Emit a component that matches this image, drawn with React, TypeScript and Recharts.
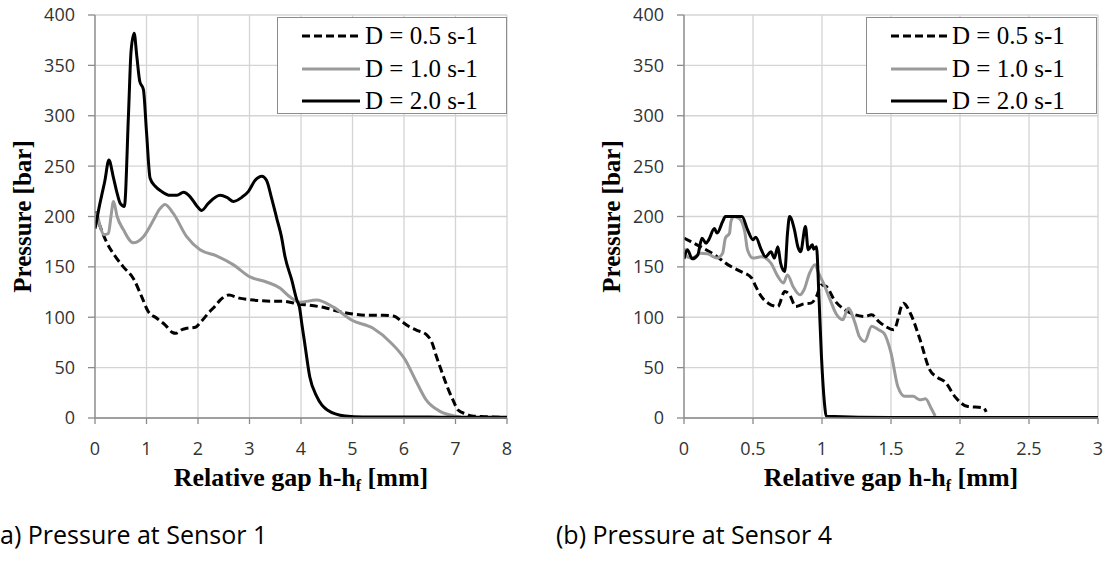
import * as React from "react";
import { CartesianGrid, Label, Legend, Line, LineChart, XAxis, YAxis } from "recharts";

// values, [gap mm, pressure bar]
const sensor1Low = [
  [0, 205], [0.1, 190], [0.23, 174], [0.4, 160], [0.55, 150], [0.75, 138], [0.91, 120], [1.03, 106],
  [1.2, 99], [1.37, 92], [1.5, 85], [1.57, 84], [1.7, 88], [1.78, 89], [1.95, 90], [2.05, 95],
  [2.2, 104], [2.33, 111], [2.45, 118], [2.6, 122], [2.8, 119], [3.0, 117.5], [3.4, 116], [3.63, 116],
  [3.97, 113], [4.17, 112], [4.5, 109], [4.72, 106], [5.04, 103], [5.3, 102], [5.6, 102], [5.81, 101],
  [5.95, 96], [6.09, 91], [6.25, 87], [6.43, 83], [6.55, 74], [6.63, 61], [6.74, 45], [6.84, 31],
  [6.95, 18], [7.05, 8], [7.2, 4], [7.32, 2], [7.5, 1.5], [7.7, 1], [8, 0.5],
];
const sensor1Mid = [
  [0, 198], [0.03, 203], [0.1, 190], [0.17, 182], [0.26, 183], [0.31, 200], [0.36, 215], [0.43, 200],
  [0.55, 187], [0.74, 174], [0.94, 180], [1.13, 196], [1.25, 207], [1.36, 212], [1.52, 203], [1.78, 180],
  [2.04, 167], [2.36, 161], [2.69, 152], [3.01, 140], [3.33, 135], [3.59, 129], [3.79, 120], [3.98, 115],
  [4.3, 117], [4.63, 110], [4.99, 97], [5.4, 89], [5.75, 74.5], [6.02, 58], [6.22, 38], [6.43, 18],
  [6.7, 6.6], [6.98, 2], [7.1, 1],
];
const sensor1High = [
  [0, 188], [0.03, 195], [0.065, 205], [0.13, 221], [0.19, 235], [0.27, 256], [0.36, 238], [0.42, 225],
  [0.49, 213], [0.57, 210], [0.65, 301], [0.7, 364], [0.76, 382], [0.81, 360], [0.87, 334], [0.94, 326],
  [1.0, 284], [1.07, 238], [1.17, 230], [1.29, 225], [1.46, 221], [1.59, 221], [1.72, 224], [1.84, 220],
  [1.97, 211], [2.07, 206], [2.2, 213], [2.43, 221], [2.56, 219], [2.69, 215], [2.85, 219], [2.98, 225],
  [3.11, 236], [3.24, 240], [3.33, 236], [3.43, 218], [3.53, 198], [3.62, 180], [3.69, 160], [3.82, 137],
  [3.92, 117], [3.97, 110], [4.02, 92], [4.07, 75], [4.17, 41], [4.31, 21], [4.51, 8], [4.86, 2],
  [5.2, 1], [6, 1], [7, 0.8], [8, 0.8],
];

const sensor4Low = [
  [0, 178.5], [0.05, 175], [0.12, 170], [0.22, 162], [0.32, 152], [0.41, 145.5], [0.49, 139], [0.52, 130.6],
  [0.56, 120.7], [0.61, 114], [0.68, 110.7], [0.73, 125.6], [0.765, 122.3], [0.81, 110.7], [0.87, 113.4],
  [0.92, 114], [0.96, 120.7], [0.995, 132], [1.03, 130.6], [1.09, 117], [1.165, 107.4], [1.24, 102.5],
  [1.31, 100.8], [1.36, 102.5], [1.41, 96], [1.46, 91], [1.52, 87.7], [1.59, 114], [1.64, 104], [1.71, 78],
  [1.78, 48], [1.84, 40], [1.89, 36], [1.97, 20], [2.05, 11.6], [2.17, 10], [2.19, 6],
];
const sensor4Mid = [
  [0, 168.6], [0.024, 160], [0.06, 158.7], [0.12, 163.6], [0.17, 163], [0.24, 158.7], [0.28, 163.6],
  [0.3, 178.5], [0.33, 183.5], [0.34, 195], [0.36, 200], [0.4, 198], [0.44, 185], [0.46, 167], [0.5, 158.7],
  [0.56, 160], [0.63, 153.7], [0.68, 140.5], [0.72, 134], [0.75, 142], [0.79, 130.6], [0.84, 122.3],
  [0.87, 127.3], [0.91, 143.8], [0.95, 152], [0.976, 143.8], [1.01, 134], [1.06, 117], [1.1, 104],
  [1.15, 97.5], [1.19, 109], [1.24, 94], [1.27, 81], [1.31, 76], [1.36, 91], [1.41, 87.6], [1.45, 84],
  [1.5, 64.6], [1.55, 31], [1.6, 21.5], [1.66, 21.5], [1.71, 18], [1.75, 19], [1.79, 10], [1.82, 2],
];
const sensor4High = [
  [0, 158], [0.024, 167], [0.06, 158], [0.1, 162], [0.13, 178.5], [0.16, 173.5], [0.18, 177], [0.22, 188],
  [0.24, 183.5], [0.28, 195], [0.3, 200], [0.42, 200], [0.46, 187], [0.5, 177], [0.52, 179.5], [0.56, 167],
  [0.59, 160], [0.63, 165], [0.655, 158.7], [0.68, 170], [0.7, 153.7], [0.73, 145.5], [0.75, 183.5],
  [0.765, 200], [0.8, 187], [0.825, 170], [0.845, 165], [0.88, 190], [0.9, 167], [0.93, 172], [0.94, 167.6],
  [0.96, 170], [0.976, 127], [0.995, 64], [1.02, 11.6], [1.03, 1.7], [1.5, 0.5], [2, 0.5], [2.5, 0.5], [3, 0.5],
];

const seriesNames = ["D = 0.5 s-1", "D = 1.0 s-1", "D = 2.0 s-1"];
const yTicks = [0, 50, 100, 150, 200, 250, 300, 350, 400];
const xTicksS1 = [0, 1, 2, 3, 4, 5, 6, 7, 8];
const xTicksS4 = [0, 0.5, 1, 1.5, 2, 2.5, 3];

const LOOKS = [
  { stroke: "#000", dash: "8 4" },
  { stroke: "#9a9a9a", dash: undefined },
  { stroke: "#000", dash: undefined },
];

const SERIF = '"Liberation Serif", "Times New Roman", serif';
const SANS = '"Open Sans", "Liberation Sans", sans-serif';
const GRID = "#d4d4d4";
const AXIS = "#8a8a8a";
const TICK = { fill: "#333", fontSize: 18, fontFamily: SANS };

const toRows = (pts: number[][]) => pts.map(([x, y]) => ({ x, y }));

function LegendBox({ lineW }: { lineW: number }) {
  return (
    <div
      style={{
        boxSizing: "border-box", width: "100%", height: "100%", background: "#fff",
        border: "1px solid #8c8c8c", paddingTop: 2,
      }}
    >
      {seriesNames.map((n, i) => (
        <div key={n} style={{ display: "flex", alignItems: "center", height: 32.5, paddingLeft: 24 }}>
          <svg width={lineW} height={6} style={{ display: "block" }}>
            <line x1={0} y1={3} x2={lineW} y2={3} stroke={LOOKS[i].stroke} strokeWidth={3} strokeDasharray={LOOKS[i].dash} />
          </svg>
          <span style={{ fontFamily: SERIF, fontSize: 25, color: "#000", marginLeft: 5, whiteSpace: "nowrap" }}>{n}</span>
        </div>
      ))}
    </div>
  );
}

function YTitle(props: any) {
  const vb = props.viewBox || { x: 35, y: 15, width: 60, height: 403 };
  const cx = vb.x + vb.width - 73;
  const cy = vb.y + vb.height / 2;
  return (
    <text x={cx} y={cy} transform={`rotate(-90 ${cx} ${cy})`} textAnchor="middle" dominantBaseline="central"
      fontFamily={SERIF} fontWeight="bold" fontSize={25} fill="#000">
      Pressure [bar]
    </text>
  );
}

function XTitle(props: any) {
  const vb = props.viewBox || { x: 95, y: 418, width: 412, height: 30 };
  return (
    <text x={vb.x + vb.width / 2} y={vb.y + 68} textAnchor="middle" fontFamily={SERIF} fontWeight="bold" fontSize={26} fill="#000">
      Relative gap h-h<tspan fontSize={16} dy={5}>f</tspan><tspan dy={-5}> [mm]</tspan>
    </text>
  );
}

function Panel({ series, xMax, xTicks, left, width, marginLeft, marginRight, legend }: any) {
  return (
    <div style={{ position: "absolute", left, top: 0 }}>
      <LineChart width={width} height={500} margin={{ top: 15, right: marginRight, left: marginLeft, bottom: 52 }}>
        <CartesianGrid stroke={GRID} strokeWidth={1.3} />
        <XAxis type="number" dataKey="x" domain={[0, xMax]} ticks={xTicks} allowDataOverflow
          stroke={AXIS} strokeWidth={1.3} tickSize={6} tickMargin={18} tick={TICK} height={30}>
          <Label content={XTitle} />
        </XAxis>
        <YAxis type="number" dataKey="y" domain={[0, 400]} ticks={yTicks} width={60}
          stroke={AXIS} strokeWidth={1.3} tickSize={7} tickMargin={13} tick={TICK}>
          <Label content={YTitle} />
        </YAxis>
        <Legend layout="horizontal" verticalAlign="middle" align="center"
          wrapperStyle={{ left: legend.left, top: 17, width: legend.width, height: 97 }}
          content={() => <LegendBox lineW={legend.lineW} />} />
        {series.map((pts: number[][], i: number) => (
          <Line key={seriesNames[i]} data={toRows(pts)} dataKey="y" name={seriesNames[i]} type="monotone"
            stroke={LOOKS[i].stroke} strokeWidth={3} strokeDasharray={LOOKS[i].dash}
            dot={false} activeDot={false} isAnimationActive={false} />
        ))}
      </LineChart>
    </div>
  );
}

export default function App() {
  return (
    <div style={{ position: "absolute", left: 0, top: 0, width: 1103, height: 567, background: "#fff", overflow: "hidden" }}>
      <Panel series={[sensor1Low, sensor1Mid, sensor1High]} xMax={8} xTicks={xTicksS1}
        left={0} width={520} marginLeft={35} marginRight={13}
        legend={{ left: 277, width: 230, lineW: 58 }} />
      <Panel series={[sensor4Low, sensor4Mid, sensor4High]} xMax={3} xTicks={xTicksS4}
        left={560} width={543} marginLeft={64} marginRight={5}
        legend={{ left: 306, width: 231, lineW: 56 }} />
      <div style={{ position: "absolute", left: 0, top: 517, fontFamily: SANS, fontSize: 25, color: "#000", whiteSpace: "nowrap" }}>
        a) Pressure at Sensor 1
      </div>
      <div style={{ position: "absolute", left: 556, top: 517, fontFamily: SANS, fontSize: 25, color: "#000", whiteSpace: "nowrap" }}>
        (b) Pressure at Sensor 4
      </div>
    </div>
  );
}
